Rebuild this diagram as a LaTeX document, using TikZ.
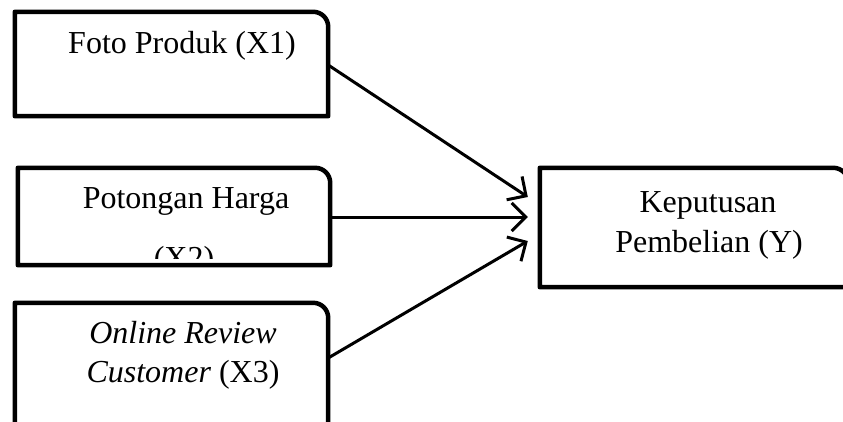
\documentclass[tikz,border=0pt]{standalone}
\usepackage{fontspec}
\setmainfont{Liberation Serif}
\usetikzlibrary{arrows.meta,calc}
\tikzset{
  boxshape/.style={rectangle, draw=none, inner sep=0pt, minimum width=#1},
  border/.style={line width=4.5pt, line join=round, rounded corners=0pt},
  lbl/.style={anchor=base, inner sep=0pt, font=\fontsize{32}{40}\selectfont},
  arr/.style={line width=3pt, -{Straight Barb[length=14pt,width=28pt,line width=3pt]}},
}
\begin{document}
\begin{tikzpicture}[x=1pt,y=-1pt]
\useasboundingbox[fill=white] (0,0) rectangle (843,421);
% invisible named box shapes
\node[boxshape=313pt, minimum height=104pt] (b1) at (171.5,64) {};
\node[boxshape=312pt, minimum height=97pt] (b2) at (174,216.5) {};
\node[boxshape=313pt, minimum height=137pt] (b3) at (171.5,371.5) {};
\node[boxshape=308pt, minimum height=119pt] (by) at (694,227.5) {};
% borders with a rounded top-right corner
\foreach \b in {b1,b2,b3,by}{
  \draw[border] (\b.south west) -- (\b.north west)
     [rounded corners=15pt] -- (\b.north east)
     [rounded corners=0pt] -- (\b.south east) -- cycle;
}
% texts
\node[lbl] (t1) at (182,53) {Foto Produk (X1)};
\node[lbl] (t2) at (186,208) {Potongan Harga};
\begin{scope}
  \clip (0,160) rectangle (843,258);
  \node[lbl] (t2b) at (184,268) {(X2)};
\end{scope}
\node[lbl] (t3) at (183,343) {\textit{Online Review}};
\node[lbl] (t3b) at (183,382) {\textit{Customer} (X3)};
\node[lbl] (ty) at (708,212) {Keputusan};
\node[lbl] (tyb) at (709,252) {Pembelian (Y)};
% connectors
\draw[arr] (b1.east |- 0,65) -- ($(by.west |- 0,197)+(-12,0)$);
\draw[arr] (b2.east |- 0,217) -- ($(by.west |- 0,217)+(-12,0)$);
\draw[arr] (b3.east |- 0,358) -- ($(by.west |- 0,241)+(-12,0)$);
\end{tikzpicture}
\end{document}
